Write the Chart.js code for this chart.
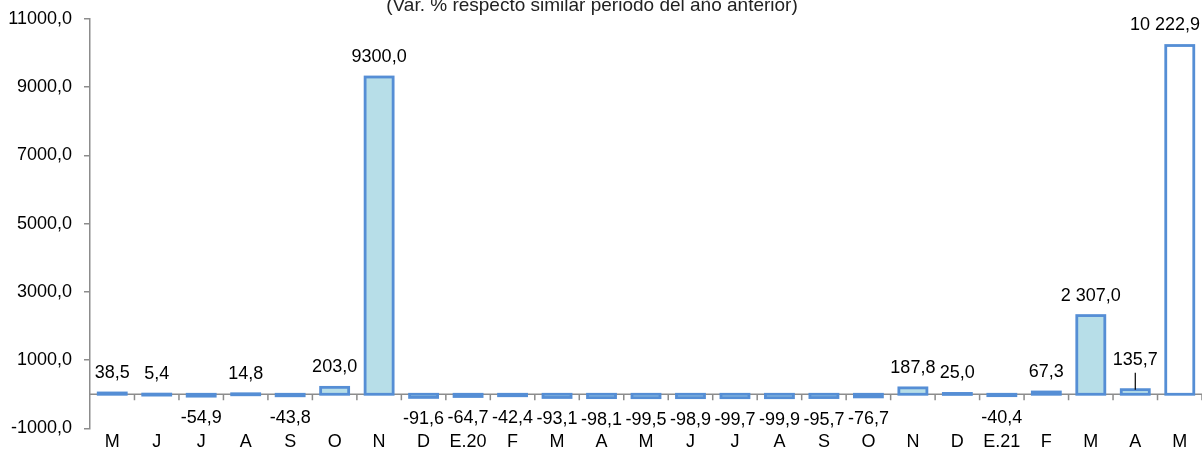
<!DOCTYPE html>
<html>
<head>
<meta charset="utf-8">
<script src="https://cdn.jsdelivr.net/npm/chart.js@4/dist/chart.umd.min.js"></script>
<style>
  html, body { margin: 0; padding: 0; background: #fff; }
  #wrap { width: 1202px; height: 457px; }
</style>
</head>
<body>
<div id="wrap"><canvas id="varChart" width="1202" height="457"></canvas></div>
<script>
const months = ['M', 'J', 'J', 'A', 'S', 'O', 'N', 'D', 'E.20', 'F', 'M', 'A', 'M', 'J', 'J', 'A', 'S', 'O', 'N', 'D', 'E.21', 'F', 'M', 'A', 'M'];
const variation = [38.5, 5.4, -54.9, 14.8, -43.8, 203.0, 9300.0, -91.6, -64.7, -42.4, -93.1, -98.1, -99.5, -98.9, -99.7, -99.9, -95.7, -76.7, 187.8, 25.0, -40.4, 67.3, 2307.0, 135.7, 10222.9];
const valueLabels = ['38,5', '5,4', '-54,9', '14,8', '-43,8', '203,0', '9300,0', '-91,6', '-64,7', '-42,4', '-93,1', '-98,1', '-99,5', '-98,9', '-99,7', '-99,9', '-95,7', '-76,7', '187,8', '25,0', '-40,4', '67,3', '2 307,0', '135,7', '10 222,9'];
const yTicks = [-1000, 1000, 3000, 5000, 7000, 9000, 11000];
const title = '(Var. % respecto similar periodo del año anterior)';

const FONT = 'Arial, "Liberation Sans", sans-serif';
const GREY = '#8c8c8c';
const BORDER = '#558ED5';
const FILL = '#B7DEE8';
const leaderIndex = 23; // label pulled up with a leader line, as in the original

const excelLook = {
    id: 'excelLook',
    beforeDatasetsDraw(chart) {
        const ctx = chart.ctx;
        const x = chart.scales.x;
        const y = chart.scales.y;
        const y0 = y.getPixelForValue(0);
        ctx.save();
        ctx.strokeStyle = GREY;
        ctx.lineWidth = 1.5;
        ctx.beginPath();
        ctx.moveTo(chart.chartArea.left, y0);
        ctx.lineTo(chart.chartArea.right, y0);
        // category boundary ticks under the zero line
        const step = x.getPixelForValue(1) - x.getPixelForValue(0);
        for (let i = 0; i < months.length; i++) {
            const bx = x.getPixelForValue(i) + step / 2;
            ctx.moveTo(bx, y0);
            ctx.lineTo(bx, y0 + 6);
        }
        ctx.stroke();
        ctx.restore();
    },
    afterDatasetsDraw(chart) {
        const ctx = chart.ctx;
        const meta = chart.getDatasetMeta(0);
        ctx.save();
        ctx.strokeStyle = BORDER;
        ctx.lineWidth = 2.8;
        meta.data.forEach((bar) => {
            const p = bar.getProps(['x', 'y', 'base', 'width'], true);
            const top = Math.min(p.y, p.base);
            const h = Math.max(Math.abs(p.y - p.base), 1);
            ctx.strokeRect(p.x - p.width / 2, top, p.width, h);
        });

        ctx.fillStyle = '#000';
        ctx.font = '18px ' + FONT;
        ctx.textAlign = 'center';
        ctx.textBaseline = 'middle';
        meta.data.forEach((bar, i) => {
            const p = bar.getProps(['x', 'y', 'base'], true);
            let ly;
            if (variation[i] >= 0) {
                ly = p.y - 20;
                if (i === leaderIndex) {
                    ly = p.y - 30;
                    ctx.strokeStyle = '#000';
                    ctx.lineWidth = 1.2;
                    ctx.beginPath();
                    ctx.moveTo(p.x, ly + 13);
                    ctx.lineTo(p.x, p.y);
                    ctx.stroke();
                }
            } else {
                ly = p.y + 22;
            }
            // keep the label inside the canvas
            const half = ctx.measureText(valueLabels[i]).width / 2;
            const lx = Math.min(p.x, chart.width - 2 - half);
            ctx.fillText(valueLabels[i], lx, ly);
        });

        ctx.font = '19px ' + FONT;
        ctx.fillStyle = '#222';
        ctx.fillText(title, 592, 6);
        ctx.restore();
    }
};

const ctx = document.getElementById('varChart').getContext('2d');
const chart = new Chart(ctx, {
    type: 'bar',
    data: {
        labels: months,
        datasets: [{
            data: variation,
            backgroundColor: (c) => c.dataIndex === variation.length - 1 ? '#ffffff' : FILL,
            borderWidth: 0,
            barPercentage: 0.7,
            categoryPercentage: 0.9
        }]
    },
    options: {
        responsive: false,
        animation: false,
        events: [],
        layout: { padding: { top: 19, right: 0, bottom: 1, left: 0 } },
        plugins: {
            legend: { display: false },
            tooltip: { enabled: false },
            title: { display: false }
        },
        scales: {
            x: {
                grid: { display: false, drawTicks: false },
                border: { display: false },
                ticks: {
                    color: '#000',
                    font: { family: FONT, size: 18 },
                    maxRotation: 0,
                    autoSkip: false,
                    padding: 3
                }
            },
            y: {
                min: -1000,
                max: 11000,
                afterFit: (scale) => {
                    scale.width = 90;
                    scale.paddingTop = 0;
                    scale.paddingBottom = 0;
                },
                afterBuildTicks: (scale) => { scale.ticks = yTicks.map(v => ({ value: v })); },
                border: { display: true, color: GREY, width: 1.5 },
                grid: {
                    drawOnChartArea: false,
                    drawTicks: true,
                    tickLength: 6,
                    color: GREY,
                    lineWidth: 1.5
                },
                ticks: {
                    color: '#000',
                    font: { family: FONT, size: 18 },
                    padding: 12,
                    callback: (v) => v.toFixed(1).replace('.', ',')
                }
            }
        }
    },
    plugins: [excelLook]
});
</script>
</body>
</html>
